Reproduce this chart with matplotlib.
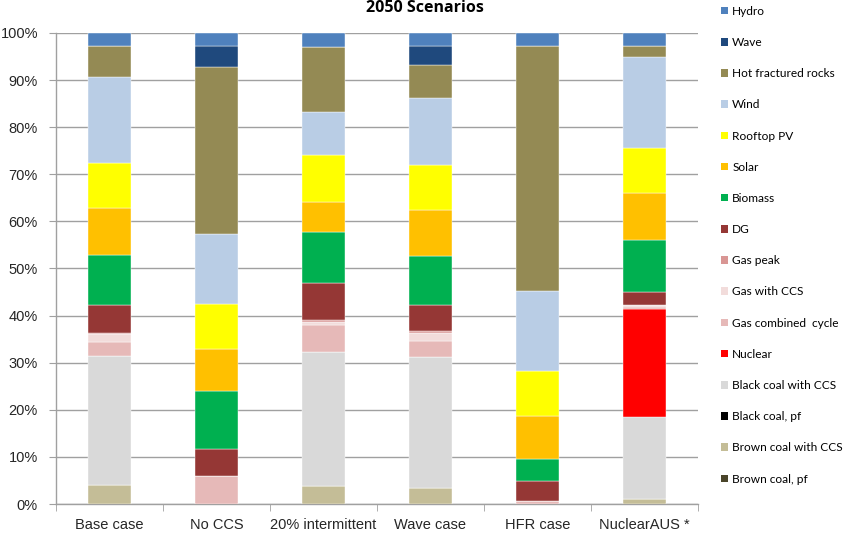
import numpy as np
import matplotlib.pyplot as plt
from matplotlib.patches import Patch

scenarios = ["Base case", "No CCS", "20% intermittent", "Wave case", "HFR case", "NuclearAUS *"]

# generation share (%) per technology, one value per scenario
brown_coal_pf   = [0, 0, 0, 0, 0, 0]
brown_coal_ccs  = [4.1, 0, 3.9, 3.5, 0, 1.0]
black_coal_pf   = [0, 0, 0, 0, 0, 0]
black_coal_ccs  = [27.3, 0, 28.4, 27.8, 0, 17.4]
nuclear         = [0, 0, 0, 0, 0, 23.0]
gas_cc          = [3.0, 5.9, 5.6, 3.3, 0.7, 0.5]
gas_ccs         = [1.6, 0, 0.7, 1.8, 0, 0.3]
gas_peak        = [0.4, 0, 0.4, 0.3, 0, 0]
dg              = [5.8, 5.8, 7.9, 5.5, 4.2, 2.8]
biomass         = [10.7, 12.2, 10.9, 10.5, 4.7, 11.0]
solar           = [9.9, 9.0, 6.3, 9.7, 9.1, 10.1]
rooftop_pv      = [9.5, 9.5, 9.9, 9.6, 9.5, 9.5]
wind            = [18.4, 14.9, 9.3, 14.3, 17.0, 19.3]
hfr             = [6.6, 35.5, 13.8, 6.8, 52.1, 2.4]
wave            = [0, 4.5, 0, 4.2, 0, 0]
hydro           = [2.7, 2.7, 2.9, 2.7, 2.7, 2.7]

# bottom-to-top stacking order
series = [
    ("Brown coal, pf", brown_coal_pf, "#4A452A"),
    ("Brown coal with CCS", brown_coal_ccs, "#C4BD97"),
    ("Black coal, pf", black_coal_pf, "#000000"),
    ("Black coal with CCS", black_coal_ccs, "#D9D9D9"),
    ("Nuclear", nuclear, "#FF0000"),
    ("Gas combined  cycle", gas_cc, "#E6B9B8"),
    ("Gas with CCS", gas_ccs, "#F2DCDB"),
    ("Gas peak", gas_peak, "#D99694"),
    ("DG", dg, "#953735"),
    ("Biomass", biomass, "#00B050"),
    ("Solar", solar, "#FFC000"),
    ("Rooftop PV", rooftop_pv, "#FFFF00"),
    ("Wind", wind, "#B9CDE5"),
    ("Hot fractured rocks", hfr, "#948A54"),
    ("Wave", wave, "#1F497D"),
    ("Hydro", hydro, "#4F81BD"),
]

fig = plt.figure(figsize=(8.48, 5.34), dpi=100)
ax = fig.add_axes([56/848, 30/534, 642/848, 471/534])

x = np.arange(len(scenarios))
bottom = np.zeros(len(scenarios))
for name, vals, col in series:
    vals = np.array(vals, dtype=float)
    ax.bar(x, vals, 0.41, bottom=bottom, color=col, edgecolor="white",
           linewidth=0.3, zorder=3)
    bottom += vals

ax.set_xlim(-0.5, len(scenarios) - 0.5)
ax.set_ylim(0, 100)
ax.set_yticks(np.arange(0, 101, 10))
ax.set_yticklabels([f"{v}%" for v in range(0, 101, 10)])
ax.yaxis.grid(True, color="#A0A0A0", linewidth=1, zorder=0)

ax.set_xticks(x)
ax.set_xticklabels(scenarios)
ax.set_xticks(np.arange(-0.5, len(scenarios)), minor=True)
ax.tick_params(axis="x", which="major", length=0, pad=10, labelsize=10.5,
               labelcolor="#262626")
ax.tick_params(axis="x", which="minor", length=5, color="#A0A0A0")
ax.tick_params(axis="y", length=5, color="#A0A0A0", pad=8, labelsize=10.5,
               labelcolor="#262626")
for s in ["top", "right"]:
    ax.spines[s].set_visible(False)
for s in ["left", "bottom"]:
    ax.spines[s].set_color("#A0A0A0")
    ax.spines[s].set_linewidth(1)

for lbl in ax.get_xticklabels() + ax.get_yticklabels():
    lbl.set_family(["Liberation Sans", "DejaVu Sans"])

fig.text(425/848, 1 - 8/534, "2050 Scenarios", ha="center", va="center",
         fontsize=11.5, fontweight="bold", family="Open Sans")

handles = [Patch(facecolor=c, edgecolor="none", label=n) for n, v, c in series[::-1]]
fig.legend(handles=handles, loc="upper left", bbox_to_anchor=(716/848, 1 - 1/534),
           frameon=False, handlelength=0.6, handleheight=0.6,
           handletextpad=0.35, labelspacing=1.69, borderaxespad=0,
           prop={"family": "Lato", "size": 8.6})

fig.savefig("out.png", dpi=100)
